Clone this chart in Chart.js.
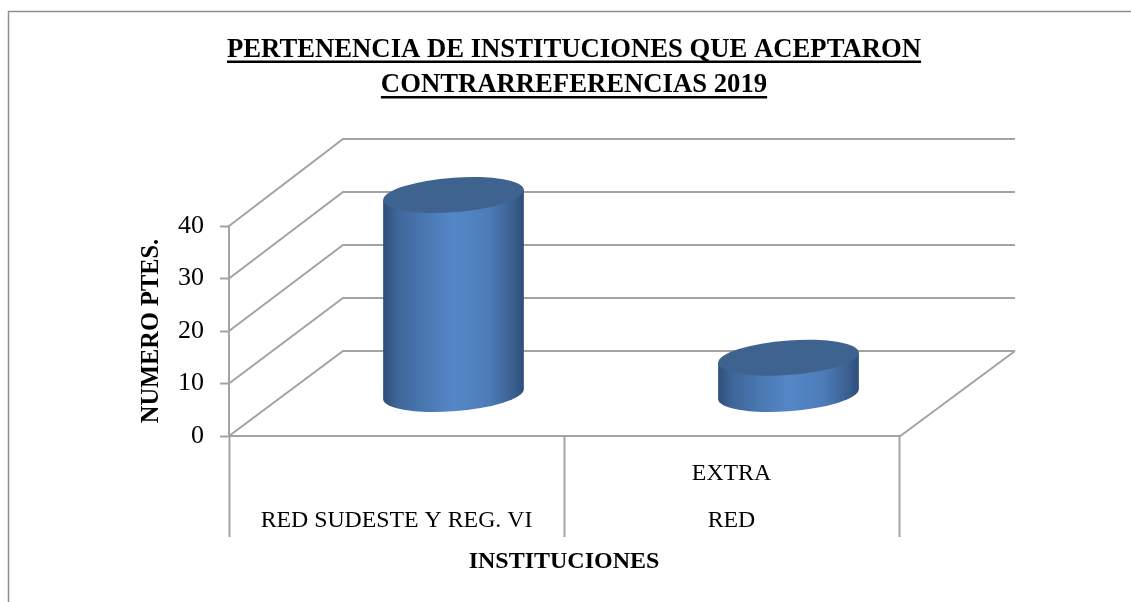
<!DOCTYPE html>
<html>
<head>
<meta charset="utf-8">
<style>
  html, body { margin: 0; padding: 0; background: #fff; }
  #wrap { position: relative; width: 1131px; height: 602px; }
</style>
<script src="https://cdn.jsdelivr.net/npm/chart.js@4"></script>
</head>
<body>
<div id="wrap"><canvas id="myChart" width="1131" height="602"></canvas></div>
<script>
'use strict';

const titleLines = ['PERTENENCIA DE INSTITUCIONES QUE ACEPTARON', 'CONTRARREFERENCIAS 2019'];
const categories = [['', 'RED SUDESTE Y REG. VI'], ['EXTRA', 'RED']];
const seriesValues = [38, 7];
const yTicks = [0, 10, 20, 30, 40];
const yTitle = 'NUMERO PTES.';
const xTitle = 'INSTITUCIONES';

const serif = '"Liberation Serif", serif';
const gridColor = '#a3a3a3';
const depthX = 114;
const depthY = 85;

// frame, 3d walls and cylinders are not something chart.js does, so a plugin does them from the scales
const fake3d = {
    id: 'fake3d',
    beforeDraw(chart) {
        let ctx = chart.ctx;
        ctx.save();
        ctx.strokeStyle = '#8e8e8e';
        ctx.lineWidth = 1.5;
        ctx.beginPath();
        ctx.moveTo(8.5, 602);
        ctx.lineTo(8.5, 11.5);
        ctx.lineTo(1131, 11.5);
        ctx.stroke();
        ctx.restore();
    },
    beforeDatasetsDraw(chart) {
        let ctx = chart.ctx;
        let xScale = chart.scales.x;
        let yScale = chart.scales.y;
        let zero = yScale.getPixelForValue(0);
        ctx.save();
        ctx.strokeStyle = gridColor;
        ctx.lineWidth = 2;
        yTicks.forEach(function (t) {
            let py = yScale.getPixelForValue(t);
            let backY = py - depthY - (zero - py) * 0.0095;
            ctx.beginPath();
            ctx.moveTo(xScale.left, py);
            ctx.lineTo(xScale.left + depthX, backY);
            ctx.lineTo(xScale.right + depthX + 2, backY);
            ctx.stroke();
        });
        // right edge of the floor
        ctx.beginPath();
        ctx.moveTo(xScale.right, zero + 1);
        ctx.lineTo(xScale.right + depthX + 2, zero - depthY);
        ctx.stroke();
        ctx.restore();
    },
    afterDatasetsDraw(chart) {
        let ctx = chart.ctx;
        chart.getDatasetMeta(0).data.forEach(function (bar) {
            drawCylinder(ctx, bar.x + depthX / 2, bar.y - 41.5, bar.base - 41.5, bar.width / 2);
        });
    },
    afterDraw(chart) {
        // underline the title
        let ctx = chart.ctx;
        let cx = (chart.titleBlock.left + chart.titleBlock.right) / 2;
        ctx.save();
        ctx.font = chart.options.plugins.title.font.weight + ' ' + chart.options.plugins.title.font.size + 'px ' + serif;
        ctx.fillStyle = '#000';
        titleLines.forEach(function (line, i) {
            let w = ctx.measureText(line).width;
            ctx.fillRect(cx - w / 2, 60.5 + i * 35.5, w, 2.5);
        });
        ctx.restore();
    }
};

function drawCylinder(ctx, cx, topY, baseY, rx) {
    let tilt = 5;
    let ry = 17.3;
    let skew = -tilt / rx;

    let grad = ctx.createLinearGradient(cx - rx, 0, cx + rx, 0);
    grad.addColorStop(0, '#2f4e7b');
    grad.addColorStop(0.1, '#3f6699');
    grad.addColorStop(0.3, '#4a78b2');
    grad.addColorStop(0.5, '#5587c8');
    grad.addColorStop(0.75, '#4d7cb8');
    grad.addColorStop(0.92, '#3b6091');
    grad.addColorStop(1, '#2f4e7b');

    ctx.save();
    // body
    ctx.beginPath();
    ctx.moveTo(cx - rx, topY + tilt);
    ctx.lineTo(cx - rx, baseY + tilt);
    ctx.save();
    ctx.transform(1, skew, 0, 1, cx, baseY);
    ctx.ellipse(0, 0, rx, ry, 0, Math.PI, 0, true);
    ctx.restore();
    ctx.lineTo(cx + rx, topY - tilt);
    ctx.closePath();
    ctx.fillStyle = grad;
    ctx.fill();
    // top
    ctx.beginPath();
    ctx.save();
    ctx.transform(1, skew, 0, 1, cx, topY);
    ctx.ellipse(0, 0, rx, ry, 0, 0, Math.PI * 2);
    ctx.restore();
    ctx.fillStyle = '#3e638f';
    ctx.fill();
    ctx.restore();
}

let ctx = document.getElementById('myChart').getContext('2d');
let myChart = new Chart(ctx, {
    type: 'bar',
    data: {
        labels: categories,
        datasets: [{
            label: yTitle,
            data: seriesValues,
            backgroundColor: 'rgba(0,0,0,0)',
            borderWidth: 0,
            barPercentage: 0.42,
            categoryPercentage: 1
        }]
    },
    plugins: [fake3d],
    options: {
        responsive: false,
        animation: false,
        layout: { padding: { left: 17, right: 0, top: 0, bottom: 0 } },
        plugins: {
            legend: { display: false },
            tooltip: { enabled: false },
            title: {
                display: true,
                text: titleLines,
                color: '#000',
                font: { family: serif, size: 26.7, weight: 'bold', lineHeight: '35.5px' },
                padding: { top: 32, bottom: 123 }
            }
        },
        scales: {
            x: {
                grid: { offset: true, drawOnChartArea: false, tickLength: 101, tickColor: gridColor, tickWidth: 2 },
                border: { color: gridColor, width: 2 },
                ticks: {
                    color: '#000',
                    maxRotation: 0,
                    autoSkip: false,
                    padding: -87,
                    font: { family: serif, size: 23.8, lineHeight: '47px' }
                },
                title: {
                    display: true,
                    text: xTitle,
                    color: '#000',
                    font: { family: serif, size: 24, weight: 'bold', lineHeight: '28px' },
                    padding: { top: 0, bottom: 26 }
                },
                afterFit: function (scale) { scale.height = 166; }
            },
            y: {
                min: 0,
                max: 40,
                grid: { drawOnChartArea: false, tickLength: 9, tickColor: gridColor, tickWidth: 2 },
                border: { color: gridColor, width: 2 },
                ticks: {
                    color: '#000',
                    stepSize: 10,
                    padding: 16,
                    font: { family: serif, size: 26 }
                },
                title: {
                    display: true,
                    text: yTitle,
                    color: '#000',
                    font: { family: serif, size: 24.4, weight: 'bold', lineHeight: '28px' },
                    padding: { top: 121, bottom: 0 }
                },
                afterFit: function (scale) { scale.width = 212; }
            },
            // empty axis, only keeps the blank space on the right so the title stays centred
            spacer: {
                type: 'linear',
                position: 'right',
                grid: { display: false },
                border: { display: false },
                ticks: { display: false },
                afterFit: function (scale) { scale.width = 232; }
            }
        }
    }
});
</script>
</body>
</html>
